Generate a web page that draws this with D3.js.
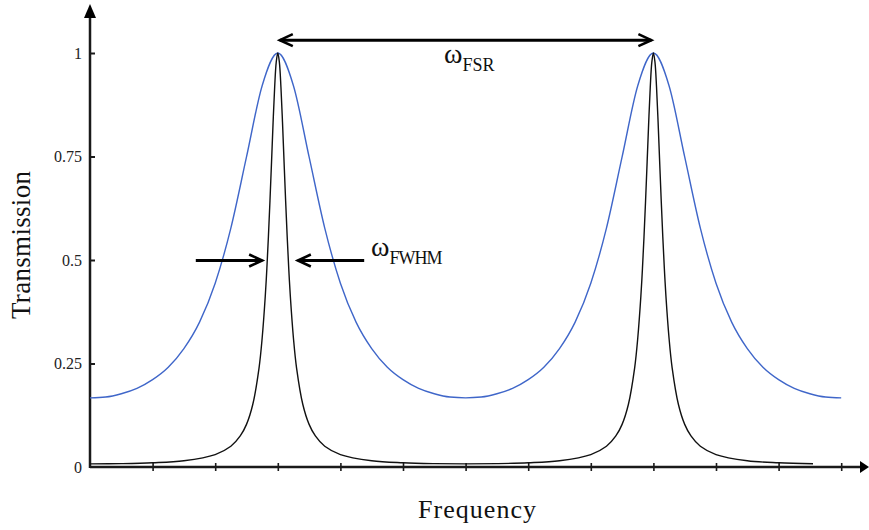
<!DOCTYPE html>
<html>
<head>
<meta charset="utf-8">
<script src="https://cdn.jsdelivr.net/npm/d3@7"></script>
<style>
  body { margin: 0; background: #fff; }
  svg text { font-family: "Liberation Serif", "DejaVu Serif", serif; }
</style>
</head>
<body>
<script>
// frequency axis in tick units (12 ticks), transmission 0..1
var yTicks = [0, 0.25, 0.5, 0.75, 1];
var yTickLabels = ["0", "0.25", "0.5", "0.75", "1"];
var xTicks = [0, 1, 2, 3, 4, 5, 6, 7, 8, 9, 10, 11, 12];

// blue (low finesse) curve
var blueX = [0, 0.25, 0.5, 0.75, 1, 1.25, 1.5, 1.75, 2, 2.25, 2.5, 2.75, 3,
             3.25, 3.5, 3.75, 4, 4.25, 4.5, 4.75, 5, 5.25, 5.5, 5.75, 6,
             6.25, 6.5, 6.75, 7, 7.25, 7.5, 7.75, 8, 8.25, 8.5, 8.75, 9,
             9.25, 9.5, 9.75, 10, 10.25, 10.5, 10.75, 11, 11.25, 11.5, 11.75, 12];
var blueY = [0.167, 0.169, 0.177, 0.190, 0.211, 0.241, 0.286, 0.350, 0.444, 0.577, 0.749, 0.921, 1,
             0.921, 0.749, 0.577, 0.444, 0.350, 0.286, 0.241, 0.211, 0.190, 0.177, 0.169, 0.167,
             0.169, 0.177, 0.190, 0.211, 0.241, 0.286, 0.350, 0.444, 0.577, 0.749, 0.921, 1,
             0.921, 0.749, 0.577, 0.444, 0.350, 0.286, 0.241, 0.211, 0.190, 0.177, 0.169, 0.167];

// black (high finesse) curve
var blackX = [0, 0.5, 1, 1.5, 2, 2.25, 2.4, 2.5, 2.6, 2.7, 2.75, 2.8, 2.825, 2.85, 2.875, 2.9, 2.925, 2.95, 2.975, 3,
              3.025, 3.05, 3.075, 3.1, 3.125, 3.15, 3.175, 3.2, 3.25, 3.3, 3.4, 3.5, 3.6, 3.75, 4, 4.5, 5, 5.5, 6,
              6.5, 7, 7.5, 8, 8.25, 8.4, 8.5, 8.6, 8.7, 8.75, 8.8, 8.825, 8.85, 8.875, 8.9, 8.925, 8.95, 8.975, 9,
              9.025, 9.05, 9.075, 9.1, 9.125, 9.15, 9.175, 9.2, 9.25, 9.3, 9.4, 9.5, 9.6, 9.75, 10, 10.5, 11, 11.55];
var blackY = [0.0076, 0.0082, 0.0102, 0.0152, 0.030, 0.050, 0.075, 0.103, 0.151, 0.239, 0.311, 0.413, 0.479, 0.556, 0.643, 0.737, 0.833, 0.918, 0.978, 1,
              0.978, 0.918, 0.833, 0.737, 0.643, 0.556, 0.479, 0.413, 0.311, 0.239, 0.151, 0.103, 0.075, 0.050, 0.030, 0.0152, 0.0102, 0.0082, 0.0076,
              0.0082, 0.0102, 0.0152, 0.030, 0.050, 0.075, 0.103, 0.151, 0.239, 0.311, 0.413, 0.479, 0.556, 0.643, 0.737, 0.833, 0.918, 0.978, 1,
              0.978, 0.918, 0.833, 0.737, 0.643, 0.556, 0.479, 0.413, 0.311, 0.239, 0.151, 0.103, 0.075, 0.050, 0.030, 0.0152, 0.0102, 0.0080];

var W = 869, H = 530;
var axisColor = "#1a1a1a";

var svg = d3.select("body").append("svg")
    .attr("width", W)
    .attr("height", H);

var x = d3.scaleLinear().domain([0, 12]).range([90, 841.2]);
var y = d3.scaleLinear().domain([0, 1]).range([467, 53]);

// x axis: ticks crossing the line, no labels
var xAxis = svg.append("g")
    .attr("transform", "translate(0," + y(0) + ")")
    .call(d3.axisBottom(x).tickValues(xTicks.slice(1)).tickSize(4).tickFormat(""));
xAxis.select(".domain").remove();
xAxis.selectAll(".tick line")
    .attr("y1", -4).attr("y2", 4)
    .attr("stroke", axisColor).attr("stroke-width", 1.6);

// y axis: ticks pointing right, serif labels
var yAxis = svg.append("g")
    .attr("transform", "translate(" + x(0) + ",0)")
    .call(d3.axisLeft(y).tickValues(yTicks).tickSize(-5).tickPadding(8)
        .tickFormat(function(d, i) { return yTickLabels[i]; }));
yAxis.select(".domain").remove();
yAxis.selectAll(".tick line").attr("stroke", axisColor).attr("stroke-width", 2);
yAxis.selectAll(".tick text")
    .style("font-family", "'Liberation Serif', serif")
    .style("font-size", "16px")
    .attr("fill", "#222");
yAxis.selectAll(".tick").filter(function(d) { return d === 0; }).select("line").remove();

// axis lines with arrow heads
svg.append("line")
    .attr("x1", x(0)).attr("y1", y(0)).attr("x2", 862).attr("y2", y(0))
    .attr("stroke", axisColor).attr("stroke-width", 2.5);
svg.append("path")
    .attr("d", "M869," + y(0) + "L860," + (y(0) - 6) + "L860," + (y(0) + 6) + "Z")
    .attr("fill", "#000");
svg.append("line")
    .attr("x1", x(0)).attr("y1", y(0) + 1).attr("x2", x(0)).attr("y2", 14)
    .attr("stroke", axisColor).attr("stroke-width", 2.5);
svg.append("path")
    .attr("d", "M" + x(0) + ",4L" + (x(0) - 6) + ",18L" + (x(0) + 6) + ",18Z")
    .attr("fill", "#000");

// curves
var blueLine = d3.line()
    .x(function(d) { return x(d[0]); })
    .y(function(d) { return y(d[1]); })
    .curve(d3.curveMonotoneX);

var blackLine = d3.line()
    .x(function(d) { return x(d[0]); })
    .y(function(d) { return y(d[1]); })
    .curve(d3.curveCatmullRom.alpha(0.5));

svg.append("path")
    .datum(d3.zip(blueX, blueY))
    .attr("d", blueLine)
    .attr("fill", "none")
    .attr("stroke", "#3f66c9")
    .attr("stroke-width", 1.4);

svg.append("path")
    .datum(d3.zip(blackX, blackY))
    .attr("d", blackLine)
    .attr("fill", "none")
    .attr("stroke", "#111")
    .attr("stroke-width", 1.4);

// annotation arrows
function arrow(x1, yy, x2, heads) {
    var g = svg.append("g");
    g.append("line")
        .attr("x1", x1).attr("y1", yy).attr("x2", x2).attr("y2", yy)
        .attr("stroke", "#000").attr("stroke-width", 3);
    heads.forEach(function(h) {
        var tip = h[0], dir = h[1];
        g.append("path")
            .attr("d", "M" + (tip - dir * 13) + "," + (yy - 6) + "L" + tip + "," + yy + "L" + (tip - dir * 13) + "," + (yy + 6))
            .attr("fill", "none").attr("stroke", "#000").attr("stroke-width", 2.6)
            .attr("stroke-linejoin", "miter");
    });
}

var fsrY = y(1.031);
arrow(x(3) + 2, fsrY, x(9) - 2, [[x(3) + 2, -1], [x(9) - 2, 1]]);

var halfY = y(0.5) + 0.5;
arrow(x(1.69), halfY, x(2.75), [[x(2.75), 1]]);
arrow(x(3.32), halfY, x(4.38), [[x(3.32), -1]]);

// labels
function omega(tx, ty, sub, subW) {
    var t = svg.append("text")
        .attr("x", tx).attr("y", ty)
        .attr("fill", "#111")
        .style("font-size", "28px");
    t.append("tspan").text("\u03c9");
    t.append("tspan")
        .attr("dy", 8)
        .style("font-size", "18px")
        .attr("textLength", subW)
        .text(sub);
}
omega(444, 63, "FSR", 32);
omega(371, 256, "FWHM", 53);

svg.append("text")
    .attr("x", 477).attr("y", 518)
    .attr("text-anchor", "middle")
    .attr("fill", "#111")
    .style("font-size", "26px")
    .attr("textLength", 118)
    .text("Frequency");

svg.append("text")
    .attr("transform", "translate(30,245) rotate(-90)")
    .attr("text-anchor", "middle")
    .attr("fill", "#111")
    .style("font-size", "27px")
    .attr("textLength", 148)
    .text("Transmission");
</script>
</body>
</html>
